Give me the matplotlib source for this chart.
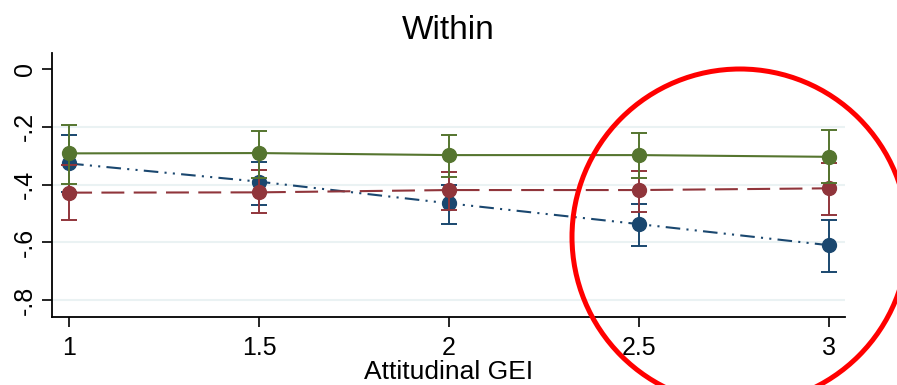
import numpy as np
import matplotlib
matplotlib.use('Agg')
import matplotlib.pyplot as plt
from matplotlib.patches import Ellipse

plt.rcParams['font.family'] = ['Liberation Sans', 'DejaVu Sans']

# data
gei = [1, 1.5, 2, 2.5, 3]

green_mean = [-0.292, -0.291, -0.298, -0.298, -0.304]
green_lo = [-0.398, -0.376, -0.373, -0.379, -0.395]
green_hi = [-0.195, -0.216, -0.229, -0.223, -0.211]

red_mean = [-0.428, -0.427, -0.419, -0.419, -0.413]
red_lo = [-0.523, -0.500, -0.488, -0.494, -0.506]
red_hi = [-0.333, -0.350, -0.356, -0.352, -0.327]

blue_mean = [-0.327, -0.390, -0.465, -0.537, -0.610]
blue_lo = [-0.425, -0.471, -0.535, -0.612, -0.702]
blue_hi = [-0.229, -0.323, -0.402, -0.468, -0.523]

yticks = [0, -0.2, -0.4, -0.6, -0.8]
ytick_labels = ['0', '-.2', '-.4', '-.6', '-.8']
xticks = [1, 1.5, 2, 2.5, 3]
xtick_labels = ['1', '1.5', '2', '2.5', '3']

c_green = '#55752f'
c_red = '#90353b'
c_blue = '#1a476f'

fig = plt.figure(figsize=(8.97, 3.85), dpi=100, facecolor='white')
ax = fig.add_axes([0.058, 0.177, 0.884, 0.685])

# grid
for yv in yticks[1:]:
    ax.axhline(yv, color='#eaf2f3', lw=1.5, zorder=0)

def series(mean, lo, hi, color, ls, dashes, z):
    m = np.array(mean)
    err = [m - np.array(lo), np.array(hi) - m]
    ax.errorbar(gei, m, yerr=err, fmt='none', ecolor=color, elinewidth=1.4,
                capsize=6, capthick=1.4, zorder=z)
    line, = ax.plot(gei, m, color=color, lw=1.5, ls=ls, marker='o',
                    markersize=10, zorder=z + 0.5)
    if dashes is not None:
        line.set_dashes(dashes)

series(blue_mean, blue_lo, blue_hi, c_blue, '-.', (7, 3, 1, 3, 1, 3), 3)
series(red_mean, red_lo, red_hi, c_red, '--', (11, 4.5), 4)
series(green_mean, green_lo, green_hi, c_green, '-', None, 5)

ax.set_xlim(0.955, 3.042)
ax.set_ylim(-0.858, 0.055)
ax.set_xticks(xticks)
ax.set_xticklabels(xtick_labels, fontsize=18)
ax.set_yticks(yticks)
ax.set_yticklabels(ytick_labels, fontsize=18, rotation=90, va='center')
ax.tick_params(axis='both', length=7, width=1.2, color='black')
ax.tick_params(axis='x', pad=7)
ax.tick_params(axis='y', pad=4)
for s in ['top', 'right']:
    ax.spines[s].set_visible(False)
for s in ['left', 'bottom']:
    ax.spines[s].set_linewidth(1.3)

ax.set_title('Within', fontsize=24, pad=10)
ax.set_xlabel('Attitudinal GEI', fontsize=19, labelpad=0)

# red annotation circle
circ = Ellipse((740 / 897, 1 - 237 / 385), width=336 / 897, height=336 / 385,
               transform=fig.transFigure, fill=False, edgecolor='#ff0000',
               lw=3.6, clip_on=False, zorder=10)
fig.patches.append(circ)

fig.savefig('out.png', dpi=100)
